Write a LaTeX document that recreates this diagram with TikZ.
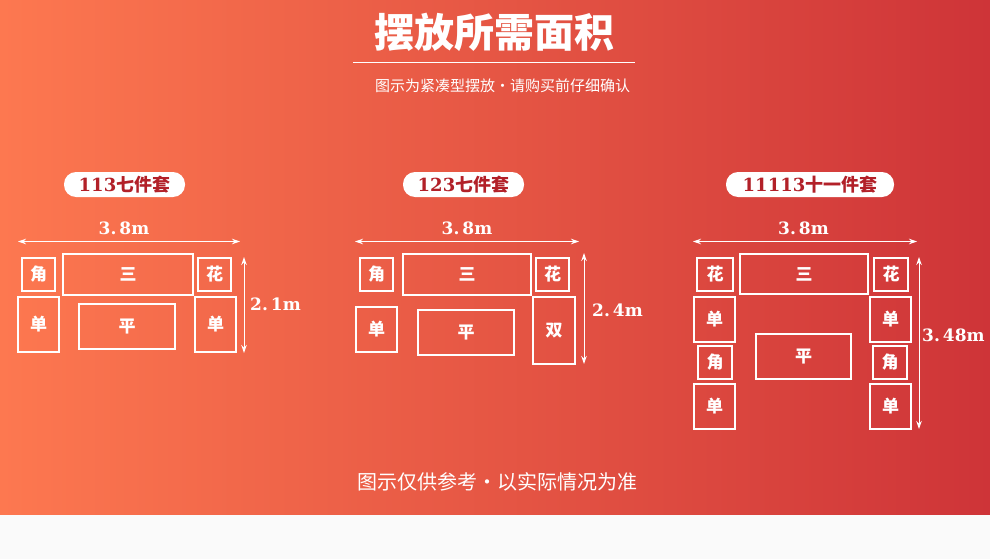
\documentclass[tikz,border=0pt]{standalone}
\usepackage{fontspec}
\usetikzlibrary{arrows.meta}
\newfontfamily\cjk{Noto Sans CJK SC}
\newfontfamily\serif{DejaVu Serif}
\newfontfamily\dimfont{DejaVu Serif}
\definecolor{bgA}{RGB}{253,120,80}
\definecolor{bgB}{RGB}{206,52,56}
\definecolor{pillred}{RGB}{178,32,40}
\definecolor{strip}{RGB}{250,250,250}
\newcommand\seatbox[6]{\node[seat, minimum width={#4-#2}, minimum height={#5-#3}] (#1) at ({(#2+#4)/2},{(#3+#5)/2}) {#6};}
\newcommand\pilltext[2]{{\serif\bfseries #1}{\cjk\bfseries #2}}
\newcommand\dimtext[2]{#1.\hspace{3pt}#2}
\begin{document}
\begin{tikzpicture}[x=1pt,y=-1pt,
 seat/.style={draw=white, line width=1.8pt, inner sep=0pt, outer sep=0pt, text=white, font=\cjk\bfseries\fontsize{17}{17}\selectfont},
 pill/.style={fill=white, rounded corners=12pt, inner sep=0pt, text=pillred, minimum height=25pt, font=\fontsize{18}{18}\selectfont},
 dimarrow/.style={white, line width=1pt, {Stealth[length=8pt,width=5.5pt]}-{Stealth[length=8pt,width=5.5pt]}},
 dimlabel/.style={text=white, font=\dimfont\bfseries\fontsize{17}{17}\selectfont, inner sep=0pt},
]
\useasboundingbox (0,0) rectangle (990,559);
\shade[left color=bgA, right color=bgB] (0,0) rectangle (990,515);
\fill[strip] (0,515) rectangle (990,559);

% title
\node[text=white, font=\cjk\bfseries\fontsize{40}{40}\selectfont, inner sep=0pt] (title) at (494.5,32) {摆放所需面积};
\coordinate (tl) at (353,62.5);
\coordinate (tr) at (635,62.5);
\draw[white, line width=0.9pt] (tl) -- (tr);
\node[text=white, font=\cjk\fontsize{15}{15}\selectfont, inner sep=0pt] (sub) at (502.5,86) {图示为紧凑型摆放·请购买前仔细确认};

% ---------- set 1 ----------
\node[pill, minimum width=121] (p1) at (124.5,184.5) {\pilltext{113}{七件套}};
\coordinate (h1l) at (18,241.5);
\coordinate (h1r) at (240,241.5);
\draw[dimarrow] (h1l) -- (h1r);
\node[dimlabel] (w1) at (124,228.5) {\dimtext{3}{8m}};
\seatbox{a1}{22}{258}{55}{291}{角}
\seatbox{b1}{63}{254}{193}{295}{三}
\seatbox{c1}{198}{258}{231}{291}{花}
\seatbox{d1}{18}{297}{59}{352}{单}
\seatbox{e1}{79}{304}{175}{349}{平}
\seatbox{f1}{195}{297}{236}{352}{单}
\coordinate (v1t) at (244,257);
\coordinate (v1b) at (244,353);
\draw[dimarrow] (v1t) -- (v1b);
\node[dimlabel, anchor=west] (d1) at (250,304.5) {\dimtext{2}{1m}};

% ---------- set 2 ----------
\node[pill, minimum width=121] (p2) at (463.5,184.5) {\pilltext{123}{七件套}};
\coordinate (h2l) at (355,241.5);
\coordinate (h2r) at (579,241.5);
\draw[dimarrow] (h2l) -- (h2r);
\node[dimlabel] (w2) at (467,228.5) {\dimtext{3}{8m}};
\seatbox{a2}{360}{258}{393}{291}{角}
\seatbox{b2}{403}{254}{531}{295}{三}
\seatbox{c2}{536}{258}{569}{291}{花}
\seatbox{d2}{356}{307}{397}{352}{单}
\seatbox{e2}{418}{310}{514}{355}{平}
\seatbox{f2}{533}{297}{575}{364}{双}
\coordinate (v2t) at (584,253);
\coordinate (v2b) at (584,364);
\draw[dimarrow] (v2t) -- (v2b);
\node[dimlabel, anchor=west] (d2) at (592,310.5) {\dimtext{2}{4m}};

% ---------- set 3 ----------
\node[pill, minimum width=168] (p3) at (810,184.5) {\pilltext{11113}{十一件套}};
\coordinate (h3l) at (693,241.5);
\coordinate (h3r) at (917,241.5);
\draw[dimarrow] (h3l) -- (h3r);
\node[dimlabel] (w3) at (803.5,228.5) {\dimtext{3}{8m}};
\seatbox{a3}{697}{258}{733}{291}{花}
\seatbox{b3}{740}{254}{868}{294}{三}
\seatbox{c3}{874}{258}{908}{291}{花}
\seatbox{d3}{694}{297}{735}{342}{单}
\seatbox{e3}{870}{297}{911}{342}{单}
\seatbox{f3}{698}{346}{732}{379}{角}
\seatbox{g3}{873}{346}{907}{379}{角}
\seatbox{h3}{694}{384}{735}{429}{单}
\seatbox{i3}{870}{384}{911}{429}{单}
\seatbox{j3}{756}{334}{851}{379}{平}
\coordinate (v3t) at (919,257);
\coordinate (v3b) at (919,429);
\draw[dimarrow] (v3t) -- (v3b);
\node[dimlabel, anchor=west] (d3) at (922,335.5) {\dimtext{3}{48m}};

% footer
\node[text=white, font=\cjk\fontsize{20}{20}\selectfont, inner sep=0pt] (foot) at (497,482) {图示仅供参考·以实际情况为准};
\end{tikzpicture}
\end{document}
